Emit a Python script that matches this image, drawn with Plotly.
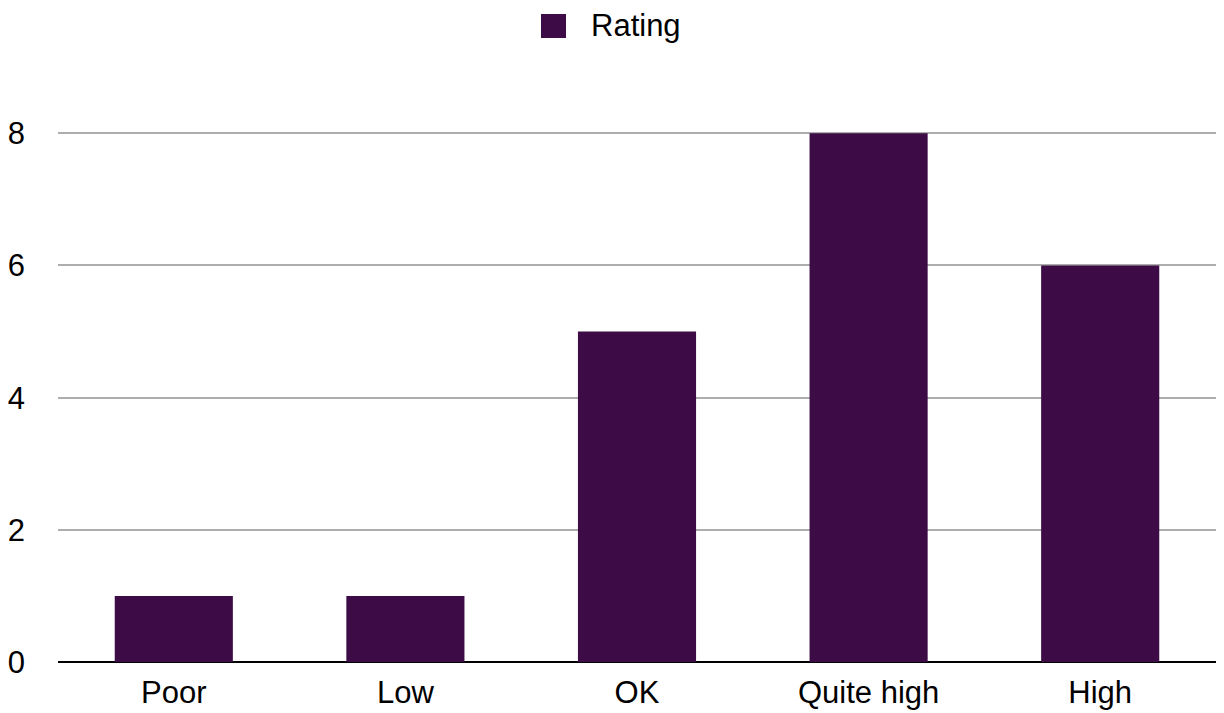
import plotly.graph_objects as go

# Rating counts per category
categories = ["Poor", "Low", "OK", "Quite high", "High"]
ratings = [1, 1, 5, 8, 6]
y_ticks = [0, 2, 4, 6, 8]

BAR_COLOR = "#3d0c46"
FONT = "Liberation Sans, Arial, Helvetica, sans-serif"

TOP, BOTTOM, LEFT, RIGHT = 130, 51, 58, 8
PLOT_W = 1224 - LEFT - RIGHT
PLOT_H = 713 - TOP - BOTTOM
Y_MAX = 8.05

fig = go.Figure(
    go.Bar(
        x=categories,
        y=ratings,
        name="Rating",
        marker=dict(color=BAR_COLOR, line=dict(width=0)),
        showlegend=False,
    )
)

fig.update_layout(
    width=1224,
    height=713,
    margin=dict(l=LEFT, r=RIGHT, t=TOP, b=BOTTOM),
    paper_bgcolor="white",
    plot_bgcolor="white",
    bargap=0.49,
    font=dict(family=FONT, size=31, color="black"),
    xaxis=dict(
        showgrid=False,
        showline=False,
        ticks="",
        tickfont=dict(size=31),
        ticklabelstandoff=9,
        automargin=False,
    ),
    yaxis=dict(
        range=[0, Y_MAX],
        tickvals=y_ticks,
        showgrid=True,
        gridcolor="#adadad",
        gridwidth=2,
        zeroline=True,
        zerolinecolor="black",
        zerolinewidth=2,
        showline=False,
        ticks="",
        tickfont=dict(size=31),
        ticklabelstandoff=32,
        automargin=False,
        fixedrange=True,
    ),
)

# Legend drawn as a swatch plus label at the top centre
zero_px = 713 - BOTTOM
fig.add_shape(
    type="rect",
    xref="paper", yref="paper",
    x0=(541 - LEFT) / PLOT_W, x1=(566 - LEFT) / PLOT_W,
    y0=(zero_px - 38) / PLOT_H, y1=(zero_px - 14) / PLOT_H,
    fillcolor=BAR_COLOR,
    line=dict(width=0),
)
fig.add_annotation(
    xref="paper", yref="paper",
    x=(589 - LEFT) / PLOT_W, y=(zero_px - 26) / PLOT_H,
    xanchor="left", yanchor="middle",
    text="Rating",
    showarrow=False,
    font=dict(family=FONT, size=31, color="black"),
)

fig.write_html("out.html")
